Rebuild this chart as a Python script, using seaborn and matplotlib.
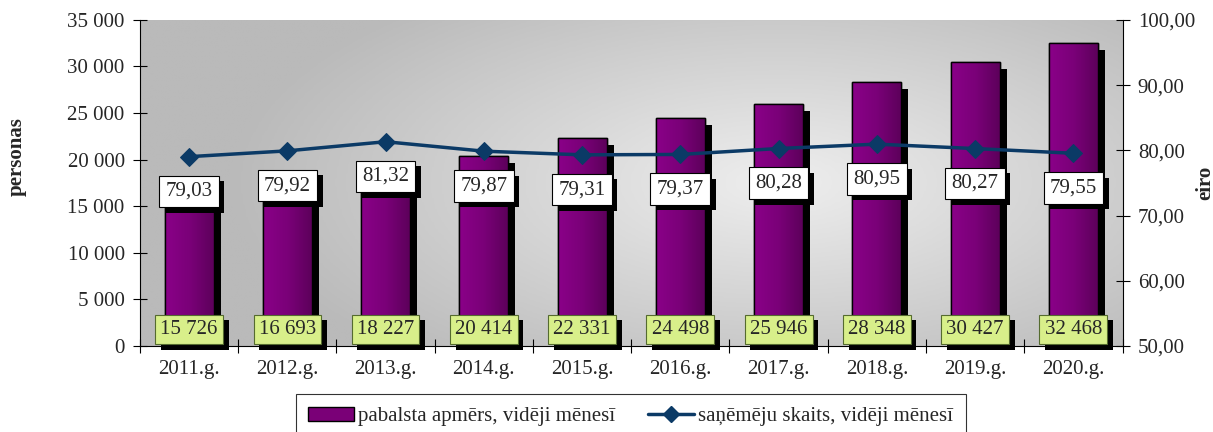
import numpy as np
import pandas as pd
import matplotlib
matplotlib.use("Agg")
import matplotlib.pyplot as plt
import matplotlib.patheffects as pe
from matplotlib.colors import LinearSegmentedColormap
from matplotlib.patches import Patch
from matplotlib.lines import Line2D
import seaborn as sns

years = ["2011.g.", "2012.g.", "2013.g.", "2014.g.", "2015.g.", "2016.g.", "2017.g.", "2018.g.", "2019.g.", "2020.g."]
recipients = [15726, 16693, 18227, 20414, 22331, 24498, 25946, 28348, 30427, 32468]
benefit = [79.03, 79.92, 81.32, 79.87, 79.31, 79.37, 80.28, 80.95, 80.27, 79.55]
left_ticks = [0, 5000, 10000, 15000, 20000, 25000, 30000, 35000]
right_ticks = [50, 60, 70, 80, 90, 100]
bar_name = "pabalsta apmērs, vidēji mēnesī"
line_name = "saņēmēju skaits, vidēji mēnesī"

df = pd.DataFrame({"year": years, "recipients": recipients, "benefit": benefit})

sns.set_theme(style="white")
plt.rcParams["font.family"] = ["Liberation Serif", "DejaVu Serif"]
FS = 15

fig = plt.figure(figsize=(12.13, 4.32), dpi=100)
ax = fig.add_axes([0.1154, 0.199, 0.81, 0.755])

# gradient background
gx = np.linspace(0, 1, 300)
gy = np.linspace(0, 1, 150)
X, Y = np.meshgrid(gx, gy)
d = np.sqrt(((X - 0.65) / 0.7) ** 2 + ((Y - 0.5) / 0.9) ** 2)
cmap = LinearSegmentedColormap.from_list("bg", ["#eeeeee", "#bababa"])
ax.imshow(d, extent=[-0.5, 9.5, 0, 35000], aspect="auto", cmap=cmap, zorder=0,
          vmin=0, vmax=0.8, origin="lower")

sns.barplot(data=df, x="year", y="recipients", ax=ax, color="#7a0077", width=0.5,
            edgecolor="black", linewidth=1.0, saturation=1, zorder=2)
barcmap = LinearSegmentedColormap.from_list("bar", ["#8a0088", "#7a0078", "#5c005a"])
grad = np.linspace(0, 1, 64).reshape(1, -1)
for p in list(ax.patches):
    p.set_path_effects([pe.SimplePatchShadow(offset=(5, -5), shadow_rgbFace="black", alpha=1.0), pe.Normal()])
    x0, y0 = p.get_x(), p.get_y()
    w, h = p.get_width(), p.get_height()
    im = ax.imshow(grad, extent=[x0, x0 + w, y0, y0 + h], aspect="auto", cmap=barcmap, zorder=2.5)
    im.set_clip_path(p)
    ax.add_patch(plt.Rectangle((x0, y0), w, h, fill=False, edgecolor="black", lw=1.0, zorder=2.6))

ax.set_xlim(-0.5, 9.5)
ax.set_ylim(0, 35000)
ax.set_yticks(left_ticks)
ax.set_yticklabels([f"{v:,}".replace(",", " ") for v in left_ticks], fontsize=FS)
ax.set_xlabel("")
ax.set_ylabel("personas", fontsize=FS, fontweight="bold")
ax.yaxis.set_label_coords(-0.115, 0.58)
ax.set_xticks(range(len(years)))
ax.set_xticklabels(years, fontsize=FS)
ax.tick_params(axis="x", length=0, pad=10)
ax.set_xticks(np.arange(-0.5, 10, 1), minor=True)
ax.tick_params(axis="x", which="minor", length=10, direction="inout", color="black", width=0.8, bottom=True)
ax.tick_params(axis="y", length=10, direction="inout", color="black", width=0.8, left=True, pad=6)
for s in ["top", "right"]:
    ax.spines[s].set_visible(False)
for s in ["left", "bottom"]:
    ax.spines[s].set_color("black")
    ax.spines[s].set_linewidth(0.8)

for i, v in enumerate(recipients):
    ax.annotate(f"{v:,}".replace(",", " "), xy=(i, 0), xytext=(0, 12), textcoords="offset points",
                ha="center", va="center", fontsize=FS, zorder=5,
                bbox=dict(boxstyle="square,pad=0.25", fc="#d8ef8a", ec="#556b2f", lw=0.8,
                          path_effects=[pe.SimplePatchShadow(offset=(4, -4), shadow_rgbFace="black", alpha=1.0), pe.Normal()]))

ax2 = ax.twinx()
sns.lineplot(data=df, x="year", y="benefit", ax=ax2, color="#0b3a66", lw=2.5, marker="D",
             markersize=9, markeredgecolor="#0b3a66", sort=False, zorder=4)
ax2.set_ylim(50, 100)
ax2.set_yticks(right_ticks)
ax2.set_yticklabels([f"{v:.2f}".replace(".", ",") for v in right_ticks], fontsize=FS)
ax2.set_ylabel("eiro", fontsize=FS, fontweight="bold")
ax2.yaxis.set_label_coords(1.074, 0.5)
ax2.tick_params(axis="y", length=10, direction="inout", color="black", width=0.8, right=True, pad=6)
for s in ["top", "left", "bottom"]:
    ax2.spines[s].set_visible(False)
ax2.spines["right"].set_color("black")
ax2.spines["right"].set_linewidth(0.8)
ax2.set_xlabel("")

for i, v in enumerate(benefit):
    ax2.annotate(f"{v:.2f}".replace(".", ","), xy=(i, v), xytext=(0, -25), textcoords="offset points",
                 ha="center", va="center", fontsize=FS, zorder=6,
                 bbox=dict(boxstyle="square,pad=0.3", fc="white", ec="black", lw=0.8,
                           path_effects=[pe.SimplePatchShadow(offset=(4, -4), shadow_rgbFace="black", alpha=1.0), pe.Normal()]))

handles = [Patch(facecolor="#7a0077", edgecolor="black", label=bar_name),
           Line2D([0], [0], color="#0b3a66", lw=2.5, marker="D", markersize=8, label=line_name)]
leg = fig.legend(handles=handles, loc="lower center", bbox_to_anchor=(0.52, -0.04), ncol=2, frameon=True,
                 fancybox=False, edgecolor="black", fontsize=FS, handlelength=2.2, handletextpad=0.2,
                 columnspacing=1.6, borderpad=0.6)
leg.get_frame().set_linewidth(0.8)

fig.savefig("out.png", dpi=100)
